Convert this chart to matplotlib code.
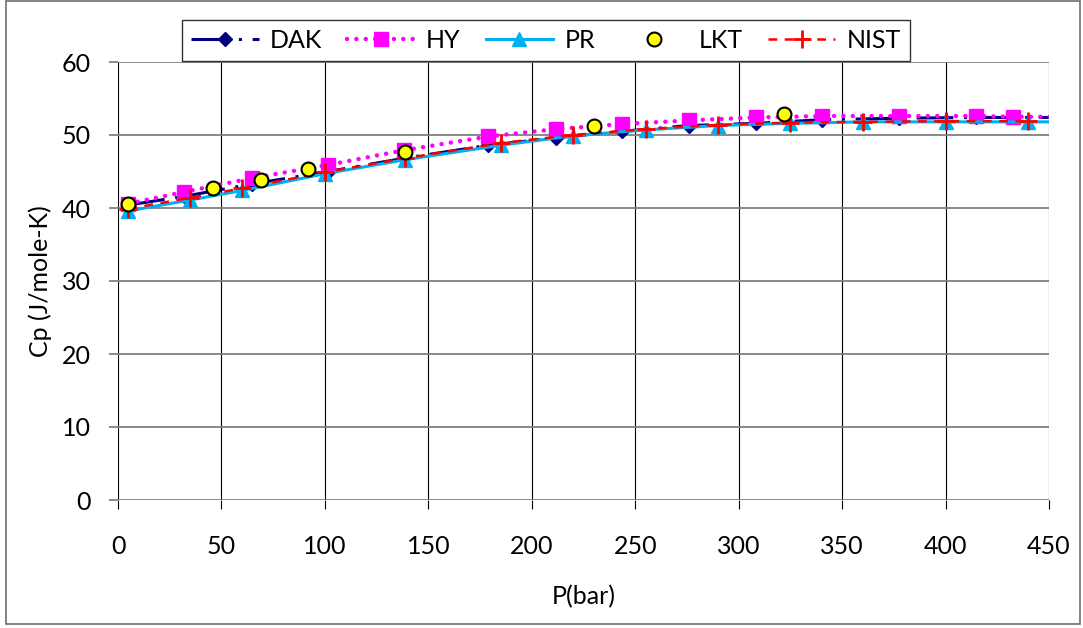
import matplotlib

matplotlib.use("Agg")
import matplotlib.pyplot as plt
from matplotlib.patches import Rectangle

plt.rcParams["font.family"] = ["Lato", "DejaVu Sans"]

# data
p_dak = [5, 32, 65, 101.5, 138, 179, 211.5, 243.5, 276, 308.5, 340.5, 377.5, 414.5, 432.5, 469]
cp_dak = [40.4, 41.6, 43.3, 45.0, 46.8, 48.6, 49.6, 50.5, 51.3, 51.6, 52.1, 52.3, 52.4, 52.4, 52.4]

p_hy = [5, 32, 65, 101.5, 138, 179, 211.5, 243.5, 276, 308.5, 340.5, 377.5, 414.5, 432.5, 469]
cp_hy = [40.6, 42.2, 44.1, 45.9, 47.9, 49.8, 50.8, 51.5, 52.0, 52.4, 52.6, 52.6, 52.6, 52.5, 52.5]

p_pr = [5, 35, 60, 100, 138.5, 185, 220, 255, 290, 325, 360, 400, 440, 475]
cp_pr = [39.6, 41.1, 42.4, 44.7, 46.6, 48.6, 49.9, 50.7, 51.3, 51.6, 51.8, 51.8, 51.8, 51.8]

p_lkt = [5, 46, 69, 92, 138.5, 230, 322]
cp_lkt = [40.5, 42.7, 43.9, 45.3, 47.7, 51.2, 52.9]

p_nist = [5, 35, 60, 100, 138.5, 185, 220, 255, 290, 325, 360, 400, 440]
cp_nist = [39.9, 41.4, 42.7, 44.9, 46.8, 48.9, 50.0, 50.8, 51.4, 51.7, 51.8, 51.9, 51.9]

x_ticks = list(range(0, 451, 50))
y_ticks = list(range(0, 61, 10))

W, H = 1083, 628
fig = plt.figure(figsize=(W / 100, H / 100), dpi=100)
ax = fig.add_axes([118 / W, 1 - 500 / H, (1049 - 118) / W, (500 - 62) / H])

# outer chart border
fig.patches.append(Rectangle((6 / W, 1 - 624 / H), (1080 - 6) / W, (624 - 1) / H,
                             transform=fig.transFigure, fill=False,
                             edgecolor="#6e6e6e", lw=1.2))

l_dak, = ax.plot(p_dak, cp_dak, color="#000080", lw=2.2, ls=(0, (12, 3.5, 1, 3.5)),
                 marker="D", ms=7.5, label="DAK", zorder=3)
l_hy, = ax.plot(p_hy, cp_hy, color="#FF00FF", lw=3.2, ls=(0, (0.01, 2.1)),
                dash_capstyle="round", marker="s", ms=10, label="HY", zorder=4)
l_pr, = ax.plot(p_pr, cp_pr, color="#00B0F0", lw=2.2, marker="^", ms=10.5,
                label="PR", zorder=5)
l_nist, = ax.plot(p_nist, cp_nist, color="#FF0000", lw=1.8, ls=(0, (3.5, 3)),
                  marker="+", ms=13, mew=2, label="NIST", zorder=6)
l_lkt, = ax.plot(p_lkt, cp_lkt, ls="none", marker="o", ms=10, mfc="#FFFF00",
                 mec="black", mew=1.5, label="LKT", zorder=7)

ax.set_xlim(0, 450)
ax.set_ylim(0, 60)
ax.set_xticks(x_ticks)
ax.set_yticks(y_ticks)
for s in ax.spines.values():
    s.set_visible(False)
ax.set_axisbelow(True)
ax.yaxis.grid(True, color="#808080", lw=1.3)
ax.xaxis.grid(True, color="black", lw=0.8)
ax.tick_params(axis="y", direction="out", length=6.5, width=1.3, color="#808080",
               pad=13, labelsize=18)
ax.tick_params(axis="x", direction="out", length=6.5, width=0.8, color="black",
               pad=19, labelsize=18)

ax.set_xlabel("P(bar)", fontsize=18)
ax.xaxis.set_label_coords(0.5, -0.22)
ax.xaxis.label.set_va("center")
ax.set_ylabel("Cp (J/mole-K)", fontsize=18)
ax.yaxis.set_label_coords(-0.084, 0.5)
ax.yaxis.label.set_va("center")

leg = fig.legend([l_dak, l_hy, l_pr, l_lkt, l_nist], ["DAK", "HY", "PR", "LKT", "NIST"],
                 loc="center", bbox_to_anchor=(546 / W, 1 - 40.5 / H), ncol=5,
                 fontsize=18, frameon=True, fancybox=False, handlelength=2.7,
                 handletextpad=0.45, columnspacing=1.0, borderpad=0.35,
                 borderaxespad=0)
leg.get_frame().set_edgecolor("black")
leg.get_frame().set_linewidth(1.0)

fig.savefig("out.png", dpi=100)
